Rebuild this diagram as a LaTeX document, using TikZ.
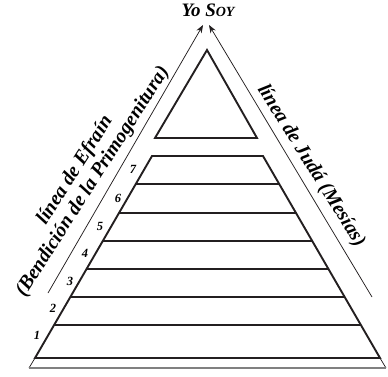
\documentclass[tikz,border=0pt]{standalone}
\usepackage{fontspec}
\setmainfont{Liberation Serif}
\usetikzlibrary{arrows.meta}
\definecolor{ink}{HTML}{231F20}

\begin{document}
\begin{tikzpicture}[x=1pt, y=-1pt, >={Stealth[length=8pt, width=6pt]},
    lbl/.style={font=\bfseries\itshape\fontsize{20}{21}\selectfont, inner sep=0pt, align=center},
    num/.style={font=\bfseries\itshape\fontsize{12.5}{13}\selectfont, inner sep=0pt},
    band/.style={line width=1.9pt, draw=ink, line cap=round},
    guide/.style={line width=0.75pt, draw=ink}]
  \useasboundingbox (0,0) rectangle (388,376);

  % Title and the two lines leading up to it
  \node[lbl, font=\bfseries\itshape\fontsize{19}{20}\selectfont] (yosoy) at (208,10) {Yo S\fontsize{14}{15}\selectfont OY};
  \coordinate (efrain) at (48,293);
  \coordinate (juda) at (372,297);
  \coordinate (tipL) at (203,25);
  \coordinate (tipR) at (209,25);
  \draw[guide, ->] (efrain) -- (tipL);
  \draw[guide, ->] (juda) -- (tipR);

  % Side labels
  \node[lbl, rotate=57.5] (efrainlbl) at (84,176) {línea de Efraín\\(Bendición de la Primogenitura)};
  \node[lbl, rotate=-58] (judalbl) at (311,166) {línea de Judá (Mesías)};

  % Top triangle
  \draw[band] (207,50) -- (257,138) -- (155,138) -- cycle;

  % Steps of the pyramid
  \draw[band] (152,156) -- (263,156) -- (380,358) -- (35,358) -- cycle;
  \draw[band] (136,184) -- (279,184);
  \draw[band] (119,213) -- (296,213);
  \draw[band] (103,241) -- (312,241);
  \draw[band] (87,269) -- (328,269);
  \draw[band] (71,297) -- (344,297);
  \draw[band] (55,325) -- (360,325);

  % Base
  \draw[guide] (35,358) -- (29,368);
  \draw[guide] (380,358) -- (386,368);
  \draw[line width=1.2pt, gray] (29,368) -- (386,368);

  % Step numbers
  \node[num] (n7) at (133,169) {7};
  \node[num] (n6) at (118,198) {6};
  \node[num] (n5) at (100,226) {5};
  \node[num] (n4) at (85,253) {4};
  \node[num] (n3) at (70,281) {3};
  \node[num] (n2) at (53,308) {2};
  \node[num] (n1) at (37,335) {1};
\end{tikzpicture}
\end{document}
